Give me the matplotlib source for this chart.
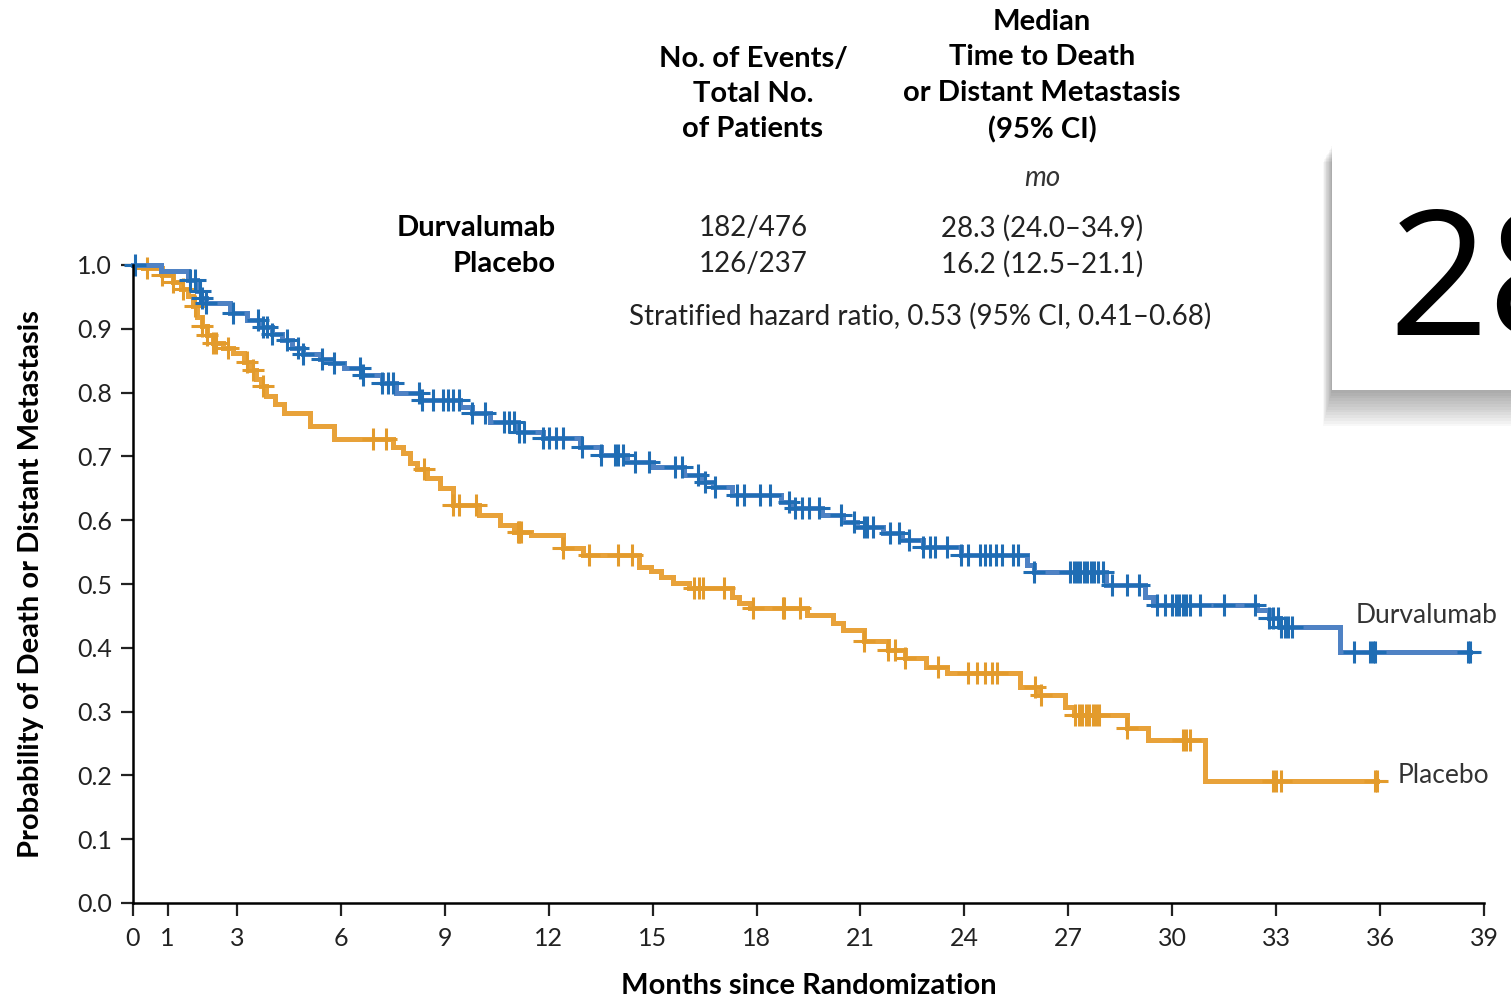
import numpy as np
import matplotlib.pyplot as plt
import matplotlib.patches as mpatches

# Kaplan-Meier steps: (month where the level starts, level)
durva_t = [0, 0.8, 1.6, 1.85, 1.95, 2.1, 2.8, 3.3, 3.7, 4.0, 4.3, 4.6, 4.9, 5.4, 5.7,
           6.1, 6.6, 7.2, 7.6, 8.3, 9.45, 9.8, 10.3, 11.1, 11.85, 12.9, 13.5, 14.25,
           15.0, 15.9, 16.4, 16.75, 17.3, 18.7, 19.0, 19.9, 20.5, 20.9, 21.65, 22.2,
           22.8, 23.9, 25.8, 26.0, 28.1, 29.2, 29.45, 32.45, 32.8, 33.1, 34.85]
durva_s = [1.0, 0.99, 0.976, 0.96, 0.948, 0.94, 0.925, 0.914, 0.903, 0.892, 0.882,
           0.87, 0.86, 0.852, 0.846, 0.838, 0.828, 0.815, 0.80, 0.788, 0.777, 0.768,
           0.754, 0.738, 0.729, 0.715, 0.702, 0.691, 0.683, 0.671, 0.66, 0.652, 0.639,
           0.629, 0.619, 0.608, 0.597, 0.589, 0.58, 0.569, 0.558, 0.545, 0.53, 0.519,
           0.498, 0.48, 0.467, 0.459, 0.447, 0.433, 0.393]
durva_end = 38.6
durva_cens = [0.05, 1.65, 1.8, 1.93, 2.0, 2.1, 2.9, 3.6, 3.75, 3.87, 4.0, 4.45, 4.75,
              4.9, 5.45, 5.8, 6.55, 6.65, 7.2, 7.35, 7.5, 8.25, 8.35, 8.65, 8.95, 9.1,
              9.25, 9.4, 9.8, 10.15, 10.7, 10.85, 11.0, 11.15, 11.3, 11.85, 12.0, 12.2,
              12.4, 12.95, 13.5, 13.9, 14.0, 14.15, 14.5, 14.9, 15.65, 15.85, 16.3,
              16.5, 16.8, 17.45, 17.65, 18.1, 18.4, 18.95, 19.1, 19.3, 19.5, 19.8,
              20.45, 20.8, 21.1, 21.2, 21.35, 21.85, 22.1, 22.4, 22.8, 23.0, 23.15,
              23.5, 23.9, 24.1, 24.45, 24.6, 24.75, 24.9, 25.1, 25.4, 25.55, 26.0,
              27.05, 27.15, 27.25, 27.35, 27.45, 27.55, 27.65, 27.75, 27.85, 28.0,
              28.25, 28.7, 29.05, 29.55, 29.8, 30.0, 30.1, 30.2, 30.3, 30.4, 30.5,
              30.8, 31.5, 32.4, 32.8, 32.9, 33.05, 33.15, 33.25, 33.35, 33.45,
              35.25, 35.7, 35.8, 35.85, 38.55]

plac_t = [0, 0.3, 0.85, 1.15, 1.4, 1.6, 1.72, 1.85, 2.0, 2.15, 2.3, 2.6, 2.9, 3.2,
          3.4, 3.55, 3.7, 3.85, 4.1, 4.35, 5.1, 5.8, 7.5, 7.8, 8.0, 8.2, 8.5, 8.85,
          9.25, 10.0, 10.6, 11.0, 11.5, 12.4, 13.0, 14.6, 14.95, 15.25, 15.6, 16.05,
          17.3, 17.5, 17.8, 19.45, 20.2, 20.5, 21.1, 21.8, 22.3, 22.9, 23.5, 25.6,
          26.1, 26.9, 27.15, 28.7, 29.3, 30.95]
plac_s = [1.0, 0.995, 0.985, 0.973, 0.963, 0.952, 0.935, 0.918, 0.905, 0.89, 0.878,
          0.87, 0.862, 0.848, 0.835, 0.822, 0.81, 0.795, 0.782, 0.768, 0.748, 0.727,
          0.715, 0.705, 0.69, 0.68, 0.666, 0.65, 0.624, 0.608, 0.592, 0.582, 0.577,
          0.556, 0.545, 0.527, 0.52, 0.511, 0.501, 0.494, 0.48, 0.47, 0.462, 0.451,
          0.439, 0.428, 0.41, 0.397, 0.384, 0.37, 0.36, 0.339, 0.326, 0.307, 0.295,
          0.274, 0.255, 0.191]
plac_end = 35.9
plac_cens = [0.4, 0.85, 1.15, 1.45, 1.8, 2.0, 2.15, 2.3, 2.4, 2.75, 3.3, 3.45, 3.75,
             6.93, 7.3, 8.4, 9.25, 9.4, 9.9, 11.1, 11.15, 11.2, 12.4, 13.15, 14.0,
             14.4, 16.2, 16.35, 16.45, 17.05, 17.9, 18.75, 18.8, 19.25, 21.1, 21.8,
             22.0, 22.3, 23.25, 24.1, 24.35, 24.6, 24.8, 24.95, 26.05, 26.2, 27.2,
             27.3, 27.4, 27.5, 27.6, 27.7, 27.8, 27.9, 28.7, 30.3, 30.4, 30.5, 32.9,
             33.0, 33.15, 35.85]

x_ticks = [0, 1, 3, 6, 9, 12, 15, 18, 21, 24, 27, 30, 33, 36, 39]
y_ticks = [0.0, 0.1, 0.2, 0.3, 0.4, 0.5, 0.6, 0.7, 0.8, 0.9, 1.0]

groups = ['Durvalumab', 'Placebo']
events = ['182/476', '126/237']
medians = ['28.3 (24.0\u201334.9)', '16.2 (12.5\u201321.1)']
hr_text = 'Stratified hazard ratio, 0.53 (95% CI, 0.41\u20130.68)'

plt.rcParams['font.family'] = ['Lato', 'DejaVu Sans']

W, H = 1511, 1000
fig = plt.figure(figsize=(W / 100, H / 100), dpi=100)
fig.patch.set_facecolor('white')
ax = fig.add_axes([133 / W, 1 - 903 / H, 1351 / W, 638 / H])

blue_line, blue_mark = '#4f82c4', '#1f6db4'
orng_line, orng_mark = '#e8a23a', '#e39b2c'


def step_at(times, levels, t):
    i = np.searchsorted(times, t, side='right') - 1
    return np.asarray(levels)[i]


for t, s, end, cens, lc, mc in [(plac_t, plac_s, plac_end, plac_cens, orng_line, orng_mark),
                                (durva_t, durva_s, durva_end, durva_cens, blue_line, blue_mark)]:
    ax.step(t + [end], s + [s[-1]], where='post', color=lc, lw=3.6, clip_on=False,
            solid_joinstyle='miter')
    ax.plot(cens + [end], step_at(t, s, np.array(cens + [end])), ls='none', marker='+',
            ms=16, mew=2.2, color=mc, clip_on=False)

ax.set_xlim(0, 39)
ax.set_ylim(0, 1.0)
ax.set_xticks(x_ticks)
ax.set_yticks(y_ticks)
ax.set_yticklabels([f'{v:.1f}' for v in y_ticks])
for sp in ['top', 'right']:
    ax.spines[sp].set_visible(False)
for sp in ['left', 'bottom']:
    ax.spines[sp].set_linewidth(1.8)
ax.tick_params(length=9, width=1.6, labelsize=18, colors='#222222', pad=6)
ax.tick_params(axis='x', pad=8)
ax.set_xlabel('Months since Randomization', fontsize=21, fontweight='bold', labelpad=17)
ax.set_ylabel('Probability of Death or Distant Metastasis', fontsize=21,
              fontweight='bold', labelpad=24)

ax.text(35.3, 0.45, 'Durvalumab', fontsize=19, color='#333333', va='center')
ax.text(36.5, 0.20, 'Placebo', fontsize=19, color='#333333', va='center')

# overlay in pixel coordinates for the header table and the pasted box
top = fig.add_axes([0, 0, 1, 1], zorder=5)
top.set_xlim(0, W)
top.set_ylim(H, 0)
top.axis('off')

hdr = dict(fontsize=21, fontweight='bold', ha='center', va='center', linespacing=1.45)
top.text(753, 94, 'No. of Events/\nTotal No.\nof Patients', **hdr)
top.text(1042, 76, 'Median\nTime to Death\nor Distant Metastasis\n(95% CI)', **hdr)
top.text(1042, 178, 'mo', fontsize=20, style='italic', ha='center', va='center',
         color='#333333')
for i, (g, e, m) in enumerate(zip(groups, events, medians)):
    yy = 228 + 36 * i
    top.text(556, yy, g, fontsize=21, fontweight='bold', ha='right', va='center')
    top.text(753, yy, e, fontsize=20, ha='center', va='center', color='#222222')
    top.text(1042, yy, m, fontsize=20, ha='center', va='center', color='#222222')
top.text(920, 316, hr_text, fontsize=20, ha='center', va='center', color='#222222')

# pasted white box with soft shadow
for k in range(14):
    top.add_patch(mpatches.Rectangle((1332 - k * 0.7, 145 + k * 1.3), 200, 245 + k * 1.5,
                                     facecolor='black', alpha=0.028, lw=0))
top.add_patch(mpatches.Rectangle((1332, 145), 200, 245, facecolor='white', lw=0))
top.text(1388, 335, '28', fontsize=126, ha='left', va='baseline', color='black',
         family=['Open Sans', 'DejaVu Sans'])

fig.savefig('out.png', dpi=100)
